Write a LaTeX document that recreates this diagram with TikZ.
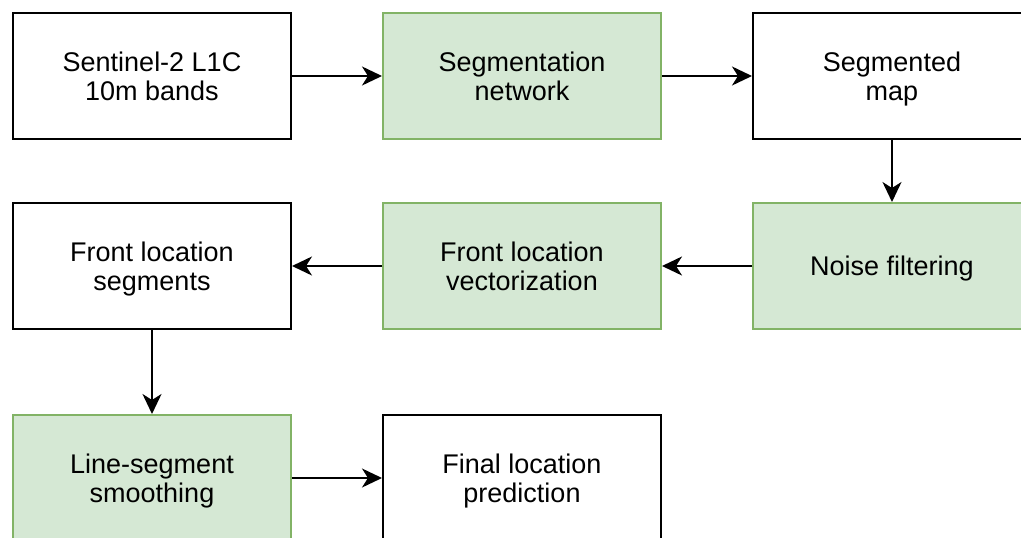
\documentclass[tikz,border=0pt]{standalone}
\usepackage{fontspec}
\setmainfont{Liberation Sans}
\usepackage{xcolor}
\usepackage{tikz}
\usetikzlibrary{arrows.meta,positioning}

\definecolor{stagefill}{HTML}{D5E8D4}
\definecolor{stageline}{HTML}{82B366}

\begin{document}
\begin{tikzpicture}[
  node distance=62pt and 90pt,
  every node/.style={font=\fontsize{27}{29.5}\selectfont},
  box/.style={draw, line width=2pt, minimum height=126pt,
              minimum width=278pt, align=center, text depth=0pt},
  stage/.style={box, draw=stageline, fill=stagefill},
  arrow/.style={-{Stealth[length=20pt,width=19pt,inset=6pt]}, line width=2pt}
]
\path[use as bounding box, clip] (0pt,0pt) rectangle (1021pt,-538pt);

\node[box] (input) at (152pt,-76pt) {Sentinel-2 L1C\\10m bands};
\node[stage, right=of input] (segnet) {Segmentation\\network};
\node[box, right=of segnet] (segmap) {Segmented\\map};
\node[stage, below=of segmap] (noise) {Noise filtering};
\node[stage, left=of noise] (vector) {Front location\\vectorization};
\node[box, left=of vector] (segments) {Front location\\segments};
\node[stage, below=84pt of segments] (smooth) {Line-segment\\smoothing};
\node[box, right=of smooth] (final) {Final location\\prediction};

\draw[arrow] (input)--(segnet);
\draw[arrow] (segnet)--(segmap);
\draw[arrow] (segmap)--(noise);
\draw[arrow] (noise)--(vector);
\draw[arrow] (vector)--(segments);
\draw[arrow] (segments)--(smooth);
\draw[arrow] (smooth)--(final);
\end{tikzpicture}
\end{document}
